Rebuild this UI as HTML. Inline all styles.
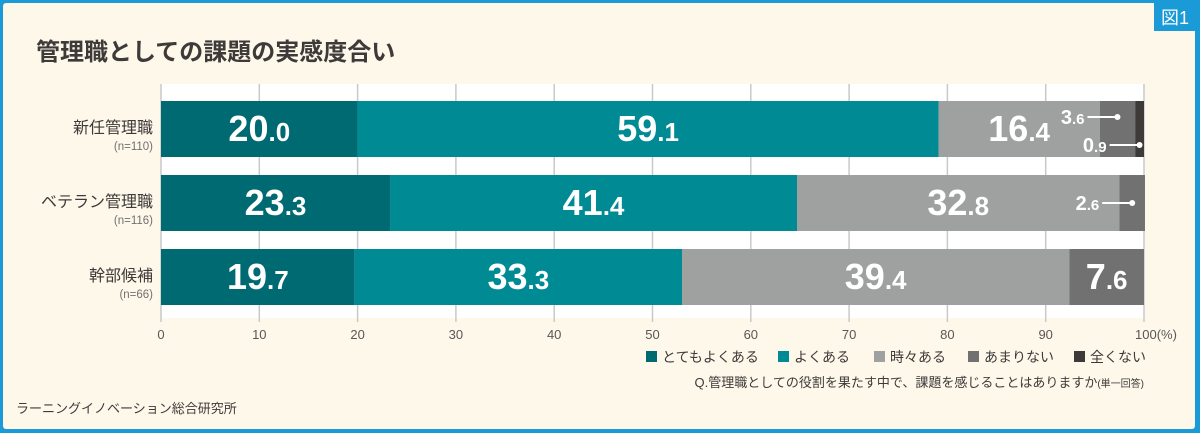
<!DOCTYPE html>
<html><head><meta charset="utf-8"><style>
body{margin:0;width:1200px;height:433px;overflow:hidden;background:#1a9ad6;font-family:"Liberation Sans","Noto Sans CJK JP",sans-serif}
#frame{position:absolute;left:3px;top:3px;width:1192px;height:426px;background:#fdf8ea;border-radius:3px}
</style></head><body>
<div id="frame"></div>
<svg id="c" width="1200" height="433" style="position:absolute;left:0;top:0"></svg>
<script>
const categories=["新任管理職","ベテラン管理職","幹部候補"];
const sampleSizes=["(n=110)","(n=116)","(n=66)"];
const seriesNames=["とてもよくある","よくある","時々ある","あまりない","全くない"];
const s1=[20.0,23.3,19.7];
const s2=[59.1,41.4,33.3];
const s3=[16.4,32.8,39.4];
const s4=[3.6,2.6,7.6];
const s5=[0.9,0,0];
const ticks=[0,10,20,30,40,50,60,70,80,90,100];
const colors=["#006a72","#008a93","#9fa0a0","#727171","#3e3a39"];
const svg=document.getElementById('c');const NS="http://www.w3.org/2000/svg";
function mk(t,a,txt){const e=document.createElementNS(NS,t);for(const k in a)e.setAttribute(k,a[k]);if(txt!=null)e.textContent=txt;svg.appendChild(e);return e;}
const x0=161,x1=1144;const X=v=>x0+(x1-x0)*v/100;
const rowTop=[101,175,249],bh=56;
let e;
e=mk('text',{x:36,y:60,'font-size':24,'font-weight':'bold',fill:'#3e3a39'},'管理職としての課題の実感度合い');

e=mk('rect',{x:1154,y:3,width:42,height:28,fill:'#1a9ad6'});

e=mk('text',{x:1175,y:24,'font-size':18,fill:'#fff','text-anchor':'middle'},'図1');

e=mk('rect',{x:x0,y:84,width:x1-x0,height:234,fill:'#fff'});

ticks.forEach(t=>{
 e=mk('line',{x1:X(t),x2:X(t),y1:84,y2:322,stroke:'#c9c9c9','stroke-width':1.5});
 
 e=mk('text',{x:X(t),y:339,'font-size':13,fill:'#595757','text-anchor':'middle'},t===100?'100(%)':String(t));
 if(t===100)e.setAttribute('x',X(t)+12);
 
});
const series=[s1,s2,s3,s4,s5];
categories.forEach((c,i)=>{
 const yt=rowTop[i];
 e=mk('text',{x:153,y:yt+32,'font-size':16,fill:'#3e3a39','text-anchor':'end'},c);
 
 e=mk('text',{x:153,y:yt+49,'font-size':11.5,fill:'#727171','text-anchor':'end'},sampleSizes[i]);
 
 let cum=0;
 series.forEach((s,k)=>{
  const v=s[i];if(!v)return;
  e=mk('rect',{x:X(cum),y:yt,width:X(cum+v)-X(cum),height:bh,fill:colors[k]});
  
  const mid=(X(cum)+X(cum+v))/2;
  const parts=v.toFixed(1).split('.');
  if(v>=5){
   e=mk('text',{x:mid,y:yt+40,'font-size':36,'font-weight':'bold',fill:'#fff','text-anchor':'middle'});
   
   const a=document.createElementNS(NS,'tspan');a.textContent=parts[0];e.appendChild(a);
   const b=document.createElementNS(NS,'tspan');b.setAttribute('font-size',26);b.textContent='.'+parts[1];e.appendChild(b);
  }else{
   const px=mid,py=(s5[i]&&k===3)?yt+16:(k===4?yt+44:yt+28);
   e=mk('line',{x1:px-30,x2:px,y1:py,y2:py,stroke:'#fff','stroke-width':2});
   
   e=mk('circle',{cx:px,cy:py,r:3,fill:'#fff'});
   
   e=mk('text',{x:px-33,y:py+7,'font-size':20,'font-weight':'bold',fill:'#fff','text-anchor':'end'});
   
   const a=document.createElementNS(NS,'tspan');a.textContent=parts[0];e.appendChild(a);
   const b=document.createElementNS(NS,'tspan');b.setAttribute('font-size',15);b.textContent='.'+parts[1];e.appendChild(b);
  }
  cum+=v;
 });
});
const legX=[646,778,874,968,1074];
seriesNames.forEach((n,k)=>{
 e=mk('rect',{x:legX[k],y:351,width:11,height:11,fill:colors[k]});
 
 e=mk('text',{x:legX[k]+16,y:362,'font-size':14,fill:'#3e3a39'},n);
 
});
e=mk('text',{x:1144,y:387,'font-size':13,fill:'#3e3a39','text-anchor':'end'});

e.innerHTML='Q.管理職としての役割を果たす中で、課題を感じることはありますか<tspan font-size="10">(単一回答)</tspan>';
e=mk('text',{x:16,y:413,'font-size':13,fill:'#3e3a39'},'ラーニングイノベーション総合研究所');

</script>
</body></html>
